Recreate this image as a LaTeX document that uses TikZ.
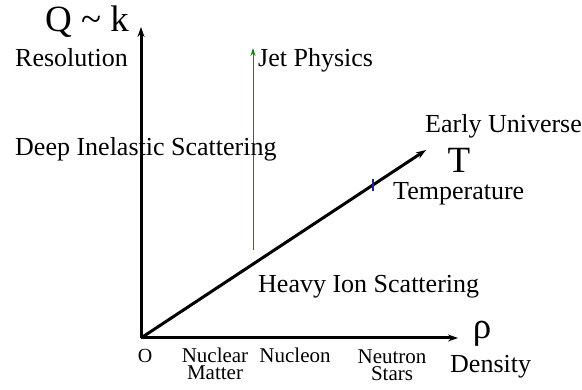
\documentclass[tikz,border=0pt]{standalone}
\usepackage{fontspec}
\setmainfont{Liberation Serif}
\usepackage{tikz}
\usetikzlibrary{positioning, arrows.meta}
\definecolor{jetgreen}{HTML}{1E7B1E}
\definecolor{tickblue}{HTML}{2020A0}

\begin{document}
\begin{tikzpicture}[x=1pt, y=-1pt, >={Stealth[length=10pt, width=7pt]},
        axis/.style={line width=3pt, ->},
        lbl/.style={font=\fontsize{26}{28}\selectfont, inner sep=0, anchor=base west},
        sml/.style={font=\fontsize{21}{17}\selectfont, inner sep=0, align=center, anchor=base},
        big/.style={font=\fontsize{37}{38}\selectfont, inner sep=0, anchor=base}]
        \useasboundingbox (0,0) rectangle (582,390);
        \coordinate (O)  at (141,338);
        \coordinate (Qt) at (141,27);
        \coordinate (Rt) at (458,338);
        \coordinate (Tt) at (426,150);
        \coordinate (J0) at (253,250);
        \coordinate (J1) at (253,48);
        \draw[axis] (O) -- (Qt);
        \draw[axis] (O) -- (Rt);
        \draw[axis] (O) -- coordinate[pos=0.814] (tk) (Tt);
        \draw[tickblue, line width=1.2pt] ([yshift=-6pt]tk) -- ([yshift=6pt]tk);
        \draw[->, jetgreen, line width=1pt, >={Stealth[length=8pt, width=5pt]}] (J0) -- (J1);
        \node[big, anchor=base west] (qk) at (45,32) {Q \char"7E{} k};
        \node[lbl] (res) at (15,67)  {Resolution};
        \node[lbl] (jet) at (258,67) {Jet Physics};
        \node[lbl] (dis) at (15,156) {Deep Inelastic Scattering};
        \node[lbl] (eu)  at (425,133) {Early Universe};
        \node[big] (T)   at (459,173) {T};
        \node[lbl] (tmp) at (393,200) {Temperature};
        \node[lbl] (his) at (258,293) {Heavy Ion Scattering};
        \node[big] (rho) at (482,339) {ρ};
        \node[lbl] (den) at (450,373) {Density};
        \node[sml, font=\fontsize{20}{16}\selectfont] (o) at (145,363) {O};
        \node[sml] (nm)  at (215,380) {Nuclear\\Matter};
        \node[sml] (nuc) at (295,363) {Nucleon};
        \node[sml] (ns)  at (392,381) {Neutron\\Stars};
      \end{tikzpicture}
\end{document}
